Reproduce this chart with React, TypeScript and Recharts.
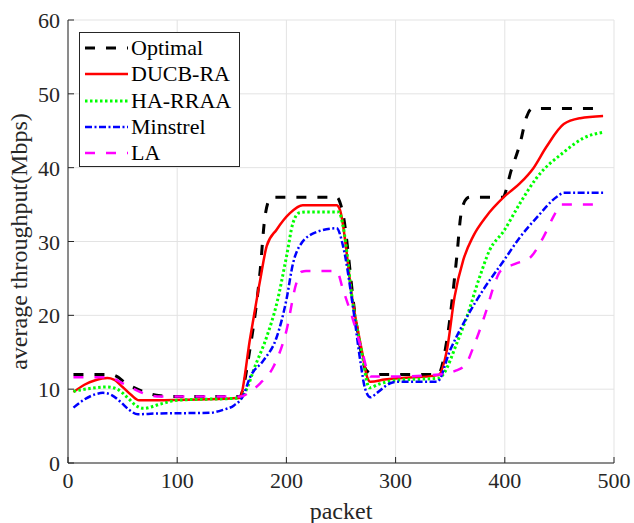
import { LineChart, Line, XAxis, YAxis, CartesianGrid, Legend } from "recharts";

document.body.style.margin = "0";

const FONT = "'Liberation Serif', 'Times New Roman', serif";
const AXIS = "#262626";

const xTicks = [0, 100, 200, 300, 400, 500];
const yTicks = [0, 10, 20, 30, 40, 50, 60];

// Optimal
const optimalX = [5, 38, 45, 52, 62, 72, 85, 95, 157, 167, 176, 180, 185, 188, 246, 251, 264, 273, 280, 339, 347, 356, 360, 365, 368, 398, 406, 414, 420, 425, 490];
const optimalY = [12, 12, 11.7, 10.9, 10.1, 9.5, 9.1, 9, 9, 15.8, 26.1, 32.9, 35.8, 36, 36, 34.3, 18.9, 12.6, 12, 12, 16.7, 27.9, 33.8, 35.8, 36, 36, 39.7, 43.3, 46.9, 48, 48];

// DUCB-RA
const ducbX = [5, 15, 25, 36, 42, 50, 58, 65, 80, 120, 157, 167, 176, 182, 191, 203, 215, 246, 249, 261, 269, 274, 277, 290, 339, 347, 354, 362, 371, 383, 399, 414, 426, 438, 454, 469, 490];
const ducbY = [9.6, 10.6, 11.2, 11.5, 11.3, 10.3, 9.2, 8.5, 8.5, 8.6, 8.8, 17.1, 24.8, 29.4, 31.6, 33.8, 34.9, 34.9, 34.3, 21.6, 15.3, 11.6, 11, 11.3, 11.9, 15.3, 22.5, 27.5, 30.7, 33.4, 36, 37.9, 39.9, 42.8, 45.9, 46.7, 47];

// HA-RRAA
const haX = [5, 20, 36, 45, 55, 62, 69, 85, 100, 158, 165, 170, 182, 191, 200, 206, 212, 218, 248, 252, 261, 269, 276, 285, 300, 340, 344, 356, 365, 377, 386, 399, 414, 429, 454, 472, 490];
const haY = [9.7, 10.1, 10.3, 10, 8.8, 7.8, 7.4, 8, 8.5, 8.8, 10.5, 12.6, 17.1, 21.5, 27.9, 32.5, 33.9, 34, 34, 32, 21.5, 15, 10.2, 10.7, 11.2, 11.5, 12.1, 16.2, 19.7, 25.2, 28.8, 31.4, 35.2, 38.6, 42.1, 44, 44.8];

// Minstrel
const minstrelX = [5, 15, 25, 32, 40, 48, 56, 64, 80, 130, 142, 152, 160, 167, 179, 191, 200, 206, 213, 228, 246, 252, 261, 268, 272, 277, 283, 295, 301, 338, 350, 365, 380, 399, 414, 429, 448, 454, 490];
const minstrelY = [7.5, 8.6, 9.3, 9.5, 9.2, 8.3, 7.2, 6.6, 6.7, 6.8, 7.2, 7.8, 9, 11.7, 13.9, 17, 22.1, 27, 29.6, 31.3, 31.8, 29.3, 21.1, 13.5, 10.1, 8.9, 9.5, 10.8, 11, 11, 15.3, 19.7, 23.4, 27.4, 30.6, 33.2, 36.1, 36.6, 36.6];

// LA
const laX = [5, 38, 50, 62, 72, 85, 158, 167, 176, 188, 200, 209, 214, 218, 246, 252, 261, 269, 277, 300, 340, 355, 364, 372, 383, 390, 396, 410, 423, 435, 445, 451, 490];
const laY = [11.6, 11.6, 10.8, 9.9, 9.3, 9, 9, 9.7, 10.8, 13, 17.9, 24.3, 25.9, 26, 26, 23.4, 19.4, 15.3, 11.7, 11.7, 12, 12.5, 13.3, 16, 20.6, 24, 26, 27, 27.8, 30.5, 33.5, 35, 35];

const toPoints = (xs: number[], ys: number[]) => xs.map((x, i) => ({ packet: x, value: ys[i] }));

const series = [
  { name: "Optimal", color: "#000000", dash: "10 11", width: 3, data: toPoints(optimalX, optimalY) },
  { name: "DUCB-RA", color: "#ff0000", dash: undefined, width: 2.5, data: toPoints(ducbX, ducbY) },
  { name: "HA-RRAA", color: "#00ff00", dash: "2.5 2.5", width: 3, data: toPoints(haX, haY) },
  { name: "Minstrel", color: "#0000ff", dash: "7 2.5 2 2.5", width: 2.5, data: toPoints(minstrelX, minstrelY) },
  { name: "LA", color: "#ff00ff", dash: "10 11", width: 2.5, data: toPoints(laX, laY) },
];

const BottomTick = ({ x, y, payload }: any) => (
  <g>
    <line x1={x} x2={x} y1={y} y2={y - 6} stroke={AXIS} />
    <text x={x} y={y + 25} textAnchor="middle" fontFamily={FONT} fontSize={22} fill={AXIS}>
      {payload.value}
    </text>
  </g>
);

const TopTick = ({ x, y }: any) => <line x1={x} x2={x} y1={y} y2={y + 6} stroke={AXIS} />;

const LeftTick = ({ x, y, payload }: any) => (
  <g>
    <line x1={x} x2={x + 6} y1={y} y2={y} stroke={AXIS} />
    <text x={x - 8} y={y + 8} textAnchor="end" fontFamily={FONT} fontSize={22} fill={AXIS}>
      {payload.value}
    </text>
  </g>
);

const RightTick = ({ x, y }: any) => <line x1={x} x2={x - 6} y1={y} y2={y} stroke={AXIS} />;

const LegendBox = () => (
  <div
    style={{
      border: `1px solid ${AXIS}`,
      background: "#fff",
      width: 159,
      height: 131,
      paddingTop: 2,
      fontFamily: FONT,
      fontSize: 22,
      color: "#000",
    }}
  >
    {series.map((s) => (
      <div key={s.name} style={{ display: "flex", alignItems: "center", height: 26.3 }}>
        <svg width={51} height={10}>
          <line x1={5} x2={48} y1={5} y2={5} stroke={s.color} strokeWidth={s.width} strokeDasharray={s.dash} />
        </svg>
        <span style={{ lineHeight: "26px" }}>{s.name}</span>
      </div>
    ))}
  </div>
);

export default function App() {
  return (
    <LineChart width={634} height={523} margin={{ top: 20, right: 20, bottom: 0, left: 0 }}>
      <CartesianGrid stroke="#e3e3e3" />
      <XAxis
        dataKey="packet"
        type="number"
        domain={[0, 500]}
        ticks={xTicks}
        height={60}
        tickLine={false}
        tickSize={0}
        tickMargin={0}
        axisLine={{ stroke: AXIS }}
        tick={BottomTick}
        label={{ value: "packet", position: "insideBottom", offset: 4, fontFamily: FONT, fontSize: 24, fill: AXIS }}
      />
      <XAxis
        xAxisId="top"
        orientation="top"
        type="number"
        domain={[0, 500]}
        ticks={xTicks}
        height={0}
        tickLine={false}
        tickSize={0}
        tickMargin={0}
        axisLine={{ stroke: AXIS }}
        tick={TopTick}
      />
      <YAxis
        type="number"
        domain={[0, 60]}
        ticks={yTicks}
        width={68}
        tickLine={false}
        tickSize={0}
        tickMargin={0}
        axisLine={{ stroke: AXIS }}
        tick={LeftTick}
        label={{
          value: "average throughput(Mbps)",
          angle: -90,
          position: "insideLeft",
          offset: 18,
          fontFamily: FONT,
          fontSize: 24,
          fill: AXIS,
          style: { textAnchor: "middle" },
        }}
      />
      <YAxis
        yAxisId="right"
        orientation="right"
        type="number"
        domain={[0, 60]}
        ticks={yTicks}
        width={0}
        tickLine={false}
        tickSize={0}
        tickMargin={0}
        axisLine={{ stroke: AXIS }}
        tick={RightTick}
      />
      <Legend
        layout="vertical"
        align="center"
        verticalAlign="middle"
        wrapperStyle={{ left: 79, top: 32, width: "auto" }}
        content={LegendBox}
      />
      {series.map((s) => (
        <Line
          key={s.name}
          data={s.data}
          dataKey="value"
          name={s.name}
          type="monotone"
          stroke={s.color}
          strokeWidth={s.width}
          strokeDasharray={s.dash}
          dot={false}
          activeDot={false}
          isAnimationActive={false}
        />
      ))}
    </LineChart>
  );
}
